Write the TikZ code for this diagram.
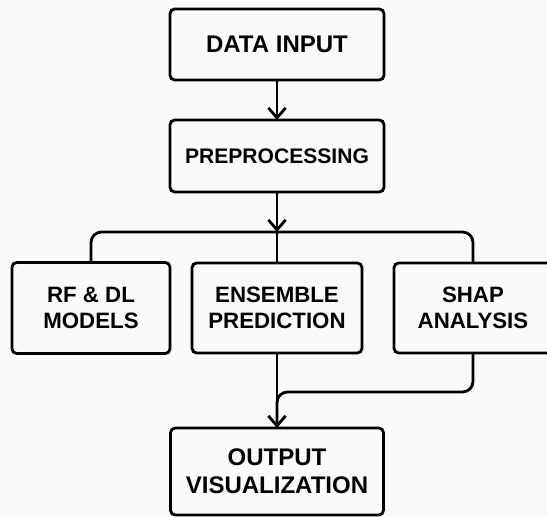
\documentclass[tikz,border=0pt]{standalone}
\usepackage{fontspec}
\setmainfont{Liberation Sans}
\usetikzlibrary{positioning,arrows.meta,calc}
\definecolor{paper}{RGB}{250,250,250}
\tikzset{
  box/.style={rectangle, draw=black, line width=2.4pt, rounded corners=4pt, outer sep=0pt, inner sep=2pt, align=center, font=\bfseries\fontsize{19}{22}\selectfont},
  flow/.style={-{Straight Barb[length=3mm, width=5.2mm]}, line width=2.4pt},
  link/.style={line width=2.4pt, rounded corners=9pt}
}

\begin{document}
\begin{tikzpicture}[node distance=1.2cm]
\fill[paper] (-8.31,1.335) rectangle (8.1,-14.175);
\useasboundingbox (-8.31,1.335) rectangle (8.1,-14.175);
% main column
\node[box, minimum width=6.42cm, minimum height=2.13cm, font=\bfseries\fontsize{20.5}{24}\selectfont] (input) {DATA INPUT};
\node[box, below=of input, minimum width=6.42cm, minimum height=2.16cm, font=\bfseries\fontsize{18}{22}\selectfont] (prep) {PREPROCESSING};
\node[box, below=2.13cm of prep, minimum width=5.1cm, minimum height=2.7cm] (ens) {ENSEMBLE\\PREDICTION};
\node[box, left=0.66cm of ens, minimum width=4.74cm, minimum height=2.73cm] (rf) {RF \& DL\\MODELS};
\node[box, right=0.96cm of ens, minimum width=4.74cm, minimum height=2.7cm] (shap) {SHAP\\ANALYSIS};
\node[box, below=2.25cm of ens, minimum width=6.39cm, minimum height=2.61cm, font=\bfseries\fontsize{20.5}{24}\selectfont] (out) {OUTPUT\\VISUALIZATION};
\coordinate (split) at ($(prep.south)+(0,-1.2)$);
\coordinate (merge) at ($(ens.south)+(0,-1.17)$);
% connectors
\draw[flow] (input) -- (prep);
\draw[flow] (prep) -- (split);
\draw[link] (rf.north) |- (split) -| (shap.north);
\draw[link] (split) -- (ens);
\draw[flow] (ens) -- (out);
\draw[link] (shap.south) |- (merge) -- (out.north);
\end{tikzpicture}
\end{document}
